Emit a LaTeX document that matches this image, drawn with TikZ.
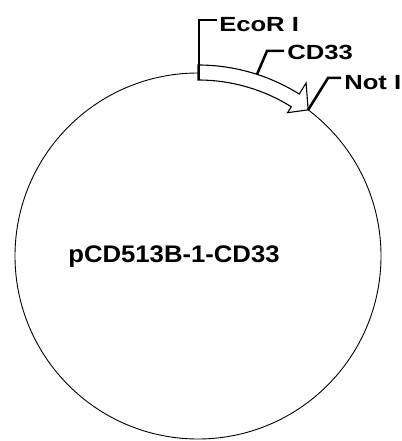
\documentclass[tikz,border=0pt]{standalone}
\usepackage{fontspec}
\setmainfont{Liberation Sans}
\tikzset{
  sitelabel/.style={font=\fontsize{20.5}{24}\selectfont\bfseries, anchor=base west, inner sep=0pt, xscale=1.25, transform shape},
  mapname/.style={font=\fontsize{24}{28}\selectfont\bfseries, anchor=base, inner sep=0pt, xscale=1.07, transform shape},
  leader/.style={line width=2.5pt},
}
\begin{document}
\begin{tikzpicture}[x=1pt,y=1pt,line join=miter]
	\useasboundingbox (-198,-185) rectangle (203,256);
	\draw [line width=0.9pt] (0,0) circle (183);
	% insert arrow
	\draw [line width=1.1pt, fill=white] (90:176) arc (90:58:176) -- (58:169) -- (53:183) -- (58:204) -- (58:191) arc (58:90:191) -- cycle;
	\coordinate (ecor) at (1,176);
	\coordinate (cdmid) at (72:191);
	\coordinate (notsite) at (53:183);
	\coordinate (cdbend) at (69,205);
	\coordinate (notbend) at (130,178);
	\node [sitelabel] (ecorlbl) at (21,224) {EcoR I};
	\node [sitelabel] (cdlbl) at (89,196) {CD33};
	\node [sitelabel] (notlbl) at (146,166) {Not I};
	\draw [leader] (ecor) |- ([xshift=-2pt,yshift=12pt]ecorlbl.base west);
	\draw [leader] (cdmid) -- (cdbend) -- ([xshift=-3pt,yshift=9pt]cdlbl.base west);
	\draw [leader] (notsite) -- (notbend) -- ([xshift=-3pt,yshift=12pt]notlbl.base west);
	\node [mapname] (plasmid) at (-24,-6) {pCD513B-1-CD33};
\end{tikzpicture}
\end{document}
